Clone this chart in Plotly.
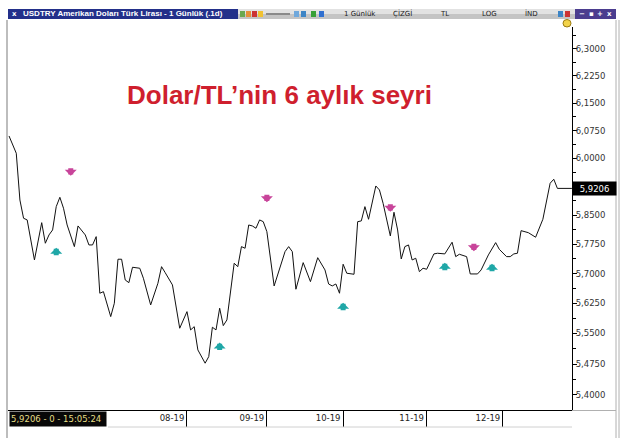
import math
import plotly.graph_objects as go

# ---------------- data ----------------
dates = [
    "2019-05-24", "2019-05-28", "2019-05-29", "2019-05-30", "2019-05-31", "2019-06-04", "2019-06-06",
    "2019-06-07", "2019-06-10", "2019-06-11", "2019-06-12", "2019-06-13", "2019-06-14", "2019-06-17",
    "2019-06-19", "2019-06-20", "2019-06-24", "2019-06-25", "2019-06-26", "2019-06-27", "2019-06-28",
    "2019-07-01", "2019-07-03", "2019-07-04", "2019-07-05", "2019-07-08", "2019-07-09", "2019-07-10",
    "2019-07-11", "2019-07-15", "2019-07-16", "2019-07-18", "2019-07-22", "2019-07-23", "2019-07-24",
    "2019-07-26", "2019-07-30", "2019-08-01", "2019-08-02", "2019-08-05", "2019-08-06", "2019-08-08",
    "2019-08-09", "2019-08-12", "2019-08-13", "2019-08-14", "2019-08-15", "2019-08-16", "2019-08-20",
    "2019-08-21", "2019-08-22", "2019-08-23", "2019-08-26", "2019-08-27", "2019-08-28", "2019-08-29",
    "2019-08-30", "2019-09-02", "2019-09-04", "2019-09-05", "2019-09-09", "2019-09-10", "2019-09-11",
    "2019-09-12", "2019-09-16", "2019-09-18", "2019-09-20", "2019-09-24", "2019-09-25", "2019-09-26",
    "2019-09-27", "2019-09-30", "2019-10-01", "2019-10-02", "2019-10-04", "2019-10-07", "2019-10-08",
    "2019-10-09", "2019-10-10", "2019-10-14", "2019-10-15", "2019-10-16", "2019-10-18", "2019-10-21",
    "2019-10-22", "2019-10-23", "2019-10-24", "2019-10-25", "2019-10-28", "2019-10-29", "2019-10-30",
    "2019-10-31", "2019-11-01", "2019-11-05", "2019-11-06", "2019-11-08", "2019-11-11", "2019-11-12",
    "2019-11-13", "2019-11-14", "2019-11-18", "2019-11-19", "2019-11-21", "2019-11-22", "2019-11-26",
    "2019-11-28", "2019-11-29", "2019-12-03", "2019-12-04", "2019-12-05", "2019-12-06", "2019-12-09",
    "2019-12-11", "2019-12-13", "2019-12-17", "2019-12-18", "2019-12-19", "2019-12-20", "2019-12-23",
    "2019-12-27",
]
closes = [
    6.0605, 6.0140, 5.8900, 5.8424, 5.8380, 5.7348, 5.8309,
    5.7777, 5.7991, 5.8120, 5.8727, 5.8972, 5.8685, 5.8249,
    5.7690, 5.8224, 5.7991, 5.7733, 5.7733, 5.7947, 5.6504,
    5.6544, 5.5919, 5.6253, 5.7367, 5.7367, 5.6839, 5.6771,
    5.7162, 5.7137, 5.6883, 5.6210, 5.6756, 5.7177, 5.7025,
    5.6714, 5.5630, 5.6043, 5.5588, 5.5669, 5.5095, 5.4770,
    5.4931, 5.5655, 5.5588, 5.6128, 5.5695, 5.5836, 5.7264,
    5.7177, 5.7690, 5.7648, 5.8249, 5.8224, 5.8164, 5.8380,
    5.8335, 5.8076, 5.6688, 5.6966, 5.7561, 5.7690, 5.7561,
    5.6605, 5.7280, 5.6797, 5.7407, 5.7094, 5.6738, 5.6688,
    5.6738, 5.6504, 5.7239, 5.7010, 5.6984, 5.8335, 5.8354,
    5.8727, 5.8397, 5.9270, 5.9165, 5.8815, 5.7965, 5.8580,
    5.8120, 5.7374, 5.7690, 5.7733, 5.7348, 5.7392, 5.7050,
    5.7137, 5.7111, 5.7503, 5.7520, 5.7503, 5.7648, 5.7803,
    5.7433, 5.7494, 5.7433, 5.6992, 5.6992, 5.7094, 5.7477,
    5.7793, 5.7622, 5.7433, 5.7433, 5.7503, 5.7520, 5.8102,
    5.8050, 5.7932, 5.8397, 5.8900, 5.9342, 5.9448, 5.9206,
    5.9206,
]
assert len(dates) == len(closes)

sell_dates = ["2019-06-18", "2019-09-02", "2019-10-18", "2019-11-20"]
sell_levels = [5.9543, 5.8841, 5.8596, 5.7571]
buy_dates = ["2019-06-12", "2019-08-14", "2019-10-01", "2019-11-08", "2019-11-27"]
buy_levels = [5.7664, 5.5275, 5.6268, 5.7280, 5.7254]

month_ticks = ["2019-08-01", "2019-09-02", "2019-10-01", "2019-11-01", "2019-12-02"]
month_labels = ["08-19", "09-19", "10-19", "11-19", "12-19"]

price_ticks = [5.4000, 5.4750, 5.5500, 5.6250, 5.7000, 5.7750, 5.8500, 5.9250,
               6.0000, 6.0750, 6.1500, 6.2250, 6.3000]
price_minor = [5.4375, 5.5125, 5.5875, 5.6625, 5.7375, 5.8125, 5.8875, 5.9625,
               6.0375, 6.1125, 6.1875, 6.2625, 6.3375]
y_low, y_high = 5.364, 6.362
x_start, x_end = "2019-05-23 17:15", "2019-12-27 00:30"
last_time = "15:05:24"

# ---------------- layout helpers ----------------
W, H = 627, 438
PL, PR, PT, PB = 8, 572, 27, 410


def px(x):
    return (x - PL) / (PR - PL)


def py(y):
    return (PB - y) / (PB - PT)


def fmt(v):
    return f"{v:.4f}".replace(".", ",")


fig = go.Figure()
fig.add_trace(go.Scatter(x=dates, y=closes, mode="lines",
                         line=dict(color="#111111", width=1), hoverinfo="skip"))

annotations = []
for d, v in zip(sell_dates, sell_levels):
    annotations.append(dict(x=d, y=math.log10(v), xref="x", yref="y", text="", showarrow=True,
                            ax=0, ay=-9, arrowhead=1, arrowwidth=5, arrowsize=0.4,
                            arrowcolor="#c8449a", standoff=0, startstandoff=0))
for d, v in zip(buy_dates, buy_levels):
    annotations.append(dict(x=d, y=math.log10(v), xref="x", yref="y", text="", showarrow=True,
                            ax=0, ay=9, arrowhead=1, arrowwidth=5, arrowsize=0.4,
                            arrowcolor="#1fa7a7", standoff=0, startstandoff=0))

# last price label on axis
annotations.append(dict(x=1.0, xref="paper", xanchor="left", y=math.log10(closes[-1]), yref="y",
                        yanchor="middle", text=fmt(closes[-1]), showarrow=False,
                        bgcolor="#000000", width=41, height=11, borderpad=1,
                        font=dict(family="DejaVu Sans", size=8.5, color="#ffffff")))
# status box
annotations.append(dict(x=px(9), xref="paper", xanchor="left", y=py(418.5), yref="paper",
                        yanchor="middle", text=f"{fmt(closes[-1])} - 0 - {last_time}", showarrow=False,
                        bgcolor="#080808", width=94, height=12, borderpad=1, align="left",
                        font=dict(family="DejaVu Sans", size=8.5, color="#e6df86")))
# headline
annotations.append(dict(x=px(279), y=py(95), xref="paper", yref="paper", showarrow=False,
                        xanchor="center", yanchor="middle",
                        text="<b>Dolar/TL’nin 6 aylık seyri</b>",
                        font=dict(family="Liberation Sans, Arial", size=26, color="#cf1f2e")))
# window title bar
annotations.append(dict(x=px(21), y=py(14), xref="paper", yref="paper", xanchor="left",
                        yanchor="middle", showarrow=False,
                        text="<b>USDTRY Amerikan Doları Türk Lirası - 1 Günlük (.1d)</b>",
                        font=dict(family="Liberation Sans, Arial", size=8, color="#ffffff")))
annotations.append(dict(x=px(14), y=py(14), xref="paper", yref="paper", showarrow=False,
                        xanchor="center", yanchor="middle",
                        text="<b>x</b>", font=dict(family="DejaVu Sans", size=7, color="#ffffff")))
for label, xc in [("1 Günlük", 360), ("ÇİZGİ", 402), ("TL", 444), ("LOG", 489), ("İND", 531)]:
    annotations.append(dict(x=px(xc), y=py(14), xref="paper", yref="paper", showarrow=False,
                            xanchor="center", yanchor="middle",
                            text=label, font=dict(family="DejaVu Sans", size=7, color="#222222")))
for label, xc in [("−", 582), ("▪", 591), ("+", 600), ("x", 609)]:
    annotations.append(dict(x=px(xc), y=py(14), xref="paper", yref="paper", showarrow=False,
                            xanchor="center", yanchor="middle",
                            text=f"<b>{label}</b>", font=dict(family="DejaVu Sans", size=7, color="#ffffff")))

shapes = []


def rect(x0, y0, x1, y1, fill):
    shapes.append(dict(type="rect", xref="paper", yref="paper", x0=px(x0), x1=px(x1),
                       y0=py(y1), y1=py(y0), fillcolor=fill,
                       line=dict(width=0), layer="below"))


def hline(x0, x1, y, color, width=1):
    shapes.append(dict(type="line", xref="paper", yref="paper", x0=px(x0), x1=px(x1),
                       y0=py(y), y1=py(y), line=dict(color=color, width=width), layer="above"))


def vline(x, y0, y1, color, width=1):
    shapes.append(dict(type="line", xref="paper", yref="paper", x0=px(x), x1=px(x),
                       y0=py(y0), y1=py(y1), line=dict(color=color, width=width), layer="above"))


# title bar pieces
rect(8, 9, 238, 19, "#23308a")
rect(238, 9, 575, 14, "#e2e2e2")
rect(238, 14, 575, 19, "#c4c4c4")
rect(575, 9, 616, 19, "#4b3d8f")
# toolbar icons
for x0, col in [(240, "#6aa84f"), (246, "#e69138"), (252, "#cc3333"), (258, "#f1c232"),
                (294, "#6fa8dc"), (301, "#3d85c6"), (311, "#38a038"), (319, "#2f6fd0"),
                (558, "#3d85c6"), (565, "#cc3333")]:
    rect(x0, 11, x0 + 5, 17, col)
hline(266, 290, 14, "#8a8a8a", 2)
# frame lines
vline(7, 20, 438, "#bdbdbd", 2)
vline(616, 20, 438, "#b0b0b0", 1)
vline(619, 20, 438, "#b0b0b0", 1)
hline(572, 616, 410.5, "#b0b0b0", 1)
hline(108, 572, 427, "#d0d0d0", 1)
# cursor marker
shapes.append(dict(type="circle", xref="paper", yref="paper", x0=px(563), x1=px(571),
                   y0=py(27), y1=py(19.5), fillcolor="#f2d34a", line=dict(color="#9a7a10", width=1),
                   layer="above"))

# the price label box covers the 5,9250 level label, as in the reference
price_text = ["" if abs(v - 5.925) < 1e-9 else fmt(v) for v in price_ticks]

fig.update_layout(
    width=W, height=H, autosize=False,
    margin=dict(l=PL, r=W - PR, t=PT, b=H - PB, pad=0),
    paper_bgcolor="#ffffff", plot_bgcolor="#ffffff",
    showlegend=False, hovermode=False,
    annotations=annotations, shapes=shapes,
    xaxis=dict(
        type="date", range=[x_start, x_end],
        rangebreaks=[dict(bounds=["sat", "mon"])],
        tickmode="array", tickvals=month_ticks, ticktext=month_labels,
        ticks="outside", ticklen=16, tickwidth=1, tickcolor="#000000",
        ticklabelshift=-15, ticklabelstandoff=-16,
        tickfont=dict(family="DejaVu Sans", size=8.5, color="#222222"),
        showline=True, linecolor="#000000", linewidth=1,
        showgrid=False, zeroline=False, automargin=False, fixedrange=True,
    ),
    yaxis=dict(
        type="log", side="right", range=[math.log10(y_low), math.log10(y_high)],
        tickmode="array", tickvals=price_ticks, ticktext=price_text,
        ticks="outside", ticklen=4, tickwidth=1, tickcolor="#000000",
        ticklabelstandoff=-3,
        minor=dict(tickmode="array", tickvals=price_minor, ticks="outside", ticklen=3,
                   tickcolor="#000000", showgrid=False),
        tickfont=dict(family="DejaVu Sans", size=8.5, color="#333333"),
        showline=True, linecolor="#000000", linewidth=1,
        showgrid=False, zeroline=False, automargin=False, fixedrange=True,
    ),
)

fig.write_html("out.html", config={"displayModeBar": False},
               post_script="document.body.style.margin='0px';")
